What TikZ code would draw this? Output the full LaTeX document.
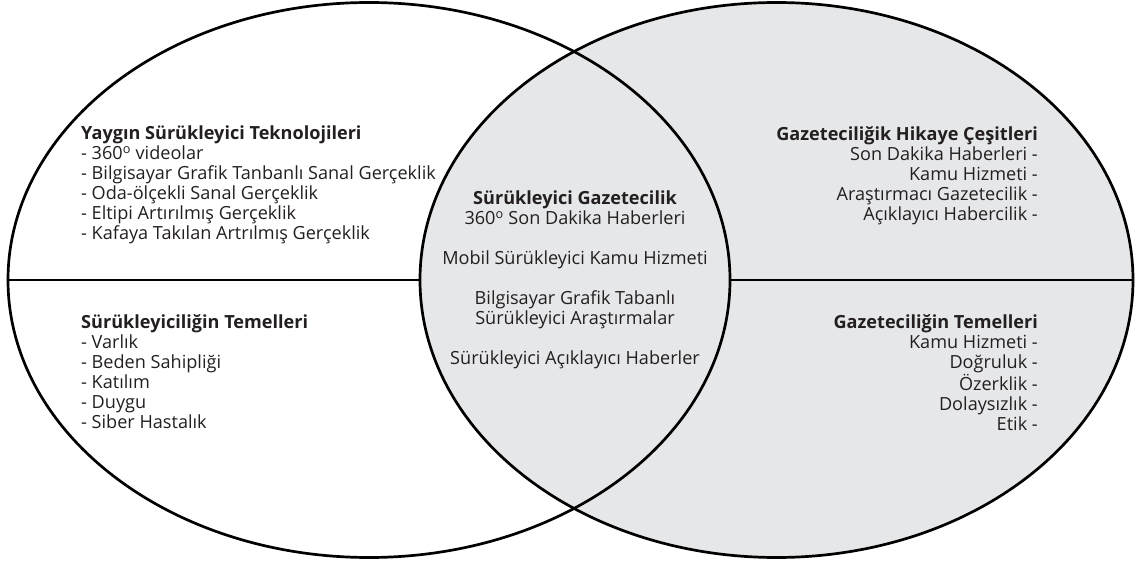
\documentclass[tikz,border=0pt]{standalone}
\usepackage{fontspec}
\setmainfont{Open Sans}
\usetikzlibrary{shapes.geometric, positioning}
\usepackage{xcolor}
\definecolor{vennfill}{HTML}{E6E7E9}
\definecolor{inktext}{HTML}{231F20}

\begin{document}
\begin{tikzpicture}[x=1pt, y=-1pt,
  venn/.style={ellipse, draw, line width=2.7pt, inner sep=0pt, minimum width=#1, minimum height=555pt},
  txt/.style={inner sep=0pt, text=inktext, font=\fontsize{18.1}{20}\selectfont, align=#1},
  txt/.default=left]
  \useasboundingbox (0,0) rectangle (1136,564);
  \node[venn=713pt, fill=vennfill] (journ) at (776.5,280) {};
  \node[venn=722pt] (immer) at (369,280) {};
  \draw[line width=2.7pt] (immer.west) -- (journ.west);
  \draw[line width=2.7pt] (immer.east) -- (journ.east);
  \node[txt, anchor=north west] (tech) at (81,125.5) {\textbf{Yaygın Sürükleyici Teknolojileri}\\
    - 360\textsuperscript{o} videolar\\
    - Bilgisayar Grafik Tanbanlı Sanal Gerçeklik\\
    - Oda-ölçekli Sanal Gerçeklik\\
    - Eltipi Artırılmış Gerçeklik\\
    - Kafaya Takılan Artrılmış Gerçeklik};
  \node[txt, anchor=north west] (found) at (81,314) {\textbf{Sürükleyiciliğin Temelleri}\\
    - Varlık\\
    - Beden Sahipliği\\
    - Katılım\\
    - Duygu\\
    - Siber Hastalık};
  \node[txt=center, anchor=north] (core) at (575,190.5) {\textbf{Sürükleyici Gazetecilik}\\
    360\textsuperscript{o} Son Dakika Haberleri\\[20pt]
    Mobil Sürükleyici Kamu Hizmeti\\[20pt]
    Bilgisayar Grafik Tabanlı\\
    Sürükleyici Araştırmalar\\[20pt]
    Sürükleyici Açıklayıcı Haberler};
  \node[txt=right, anchor=north east] (story) at (1038,126) {\textbf{Gazeteciliğik Hikaye Çeşitleri}\\
    Son Dakika Haberleri -\\
    Kamu Hizmeti -\\
    Araştırmacı Gazetecilik -\\
    Açıklayıcı Habercilik -};
  \node[txt=right, anchor=north east] (ethic) at (1038,314.5) {\textbf{Gazeteciliğin Temelleri}\\
    Kamu Hizmeti -\\
    Doğruluk -\\
    Özerklik -\\
    Dolaysızlık -\\
    Etik -};
\end{tikzpicture}
\end{document}
